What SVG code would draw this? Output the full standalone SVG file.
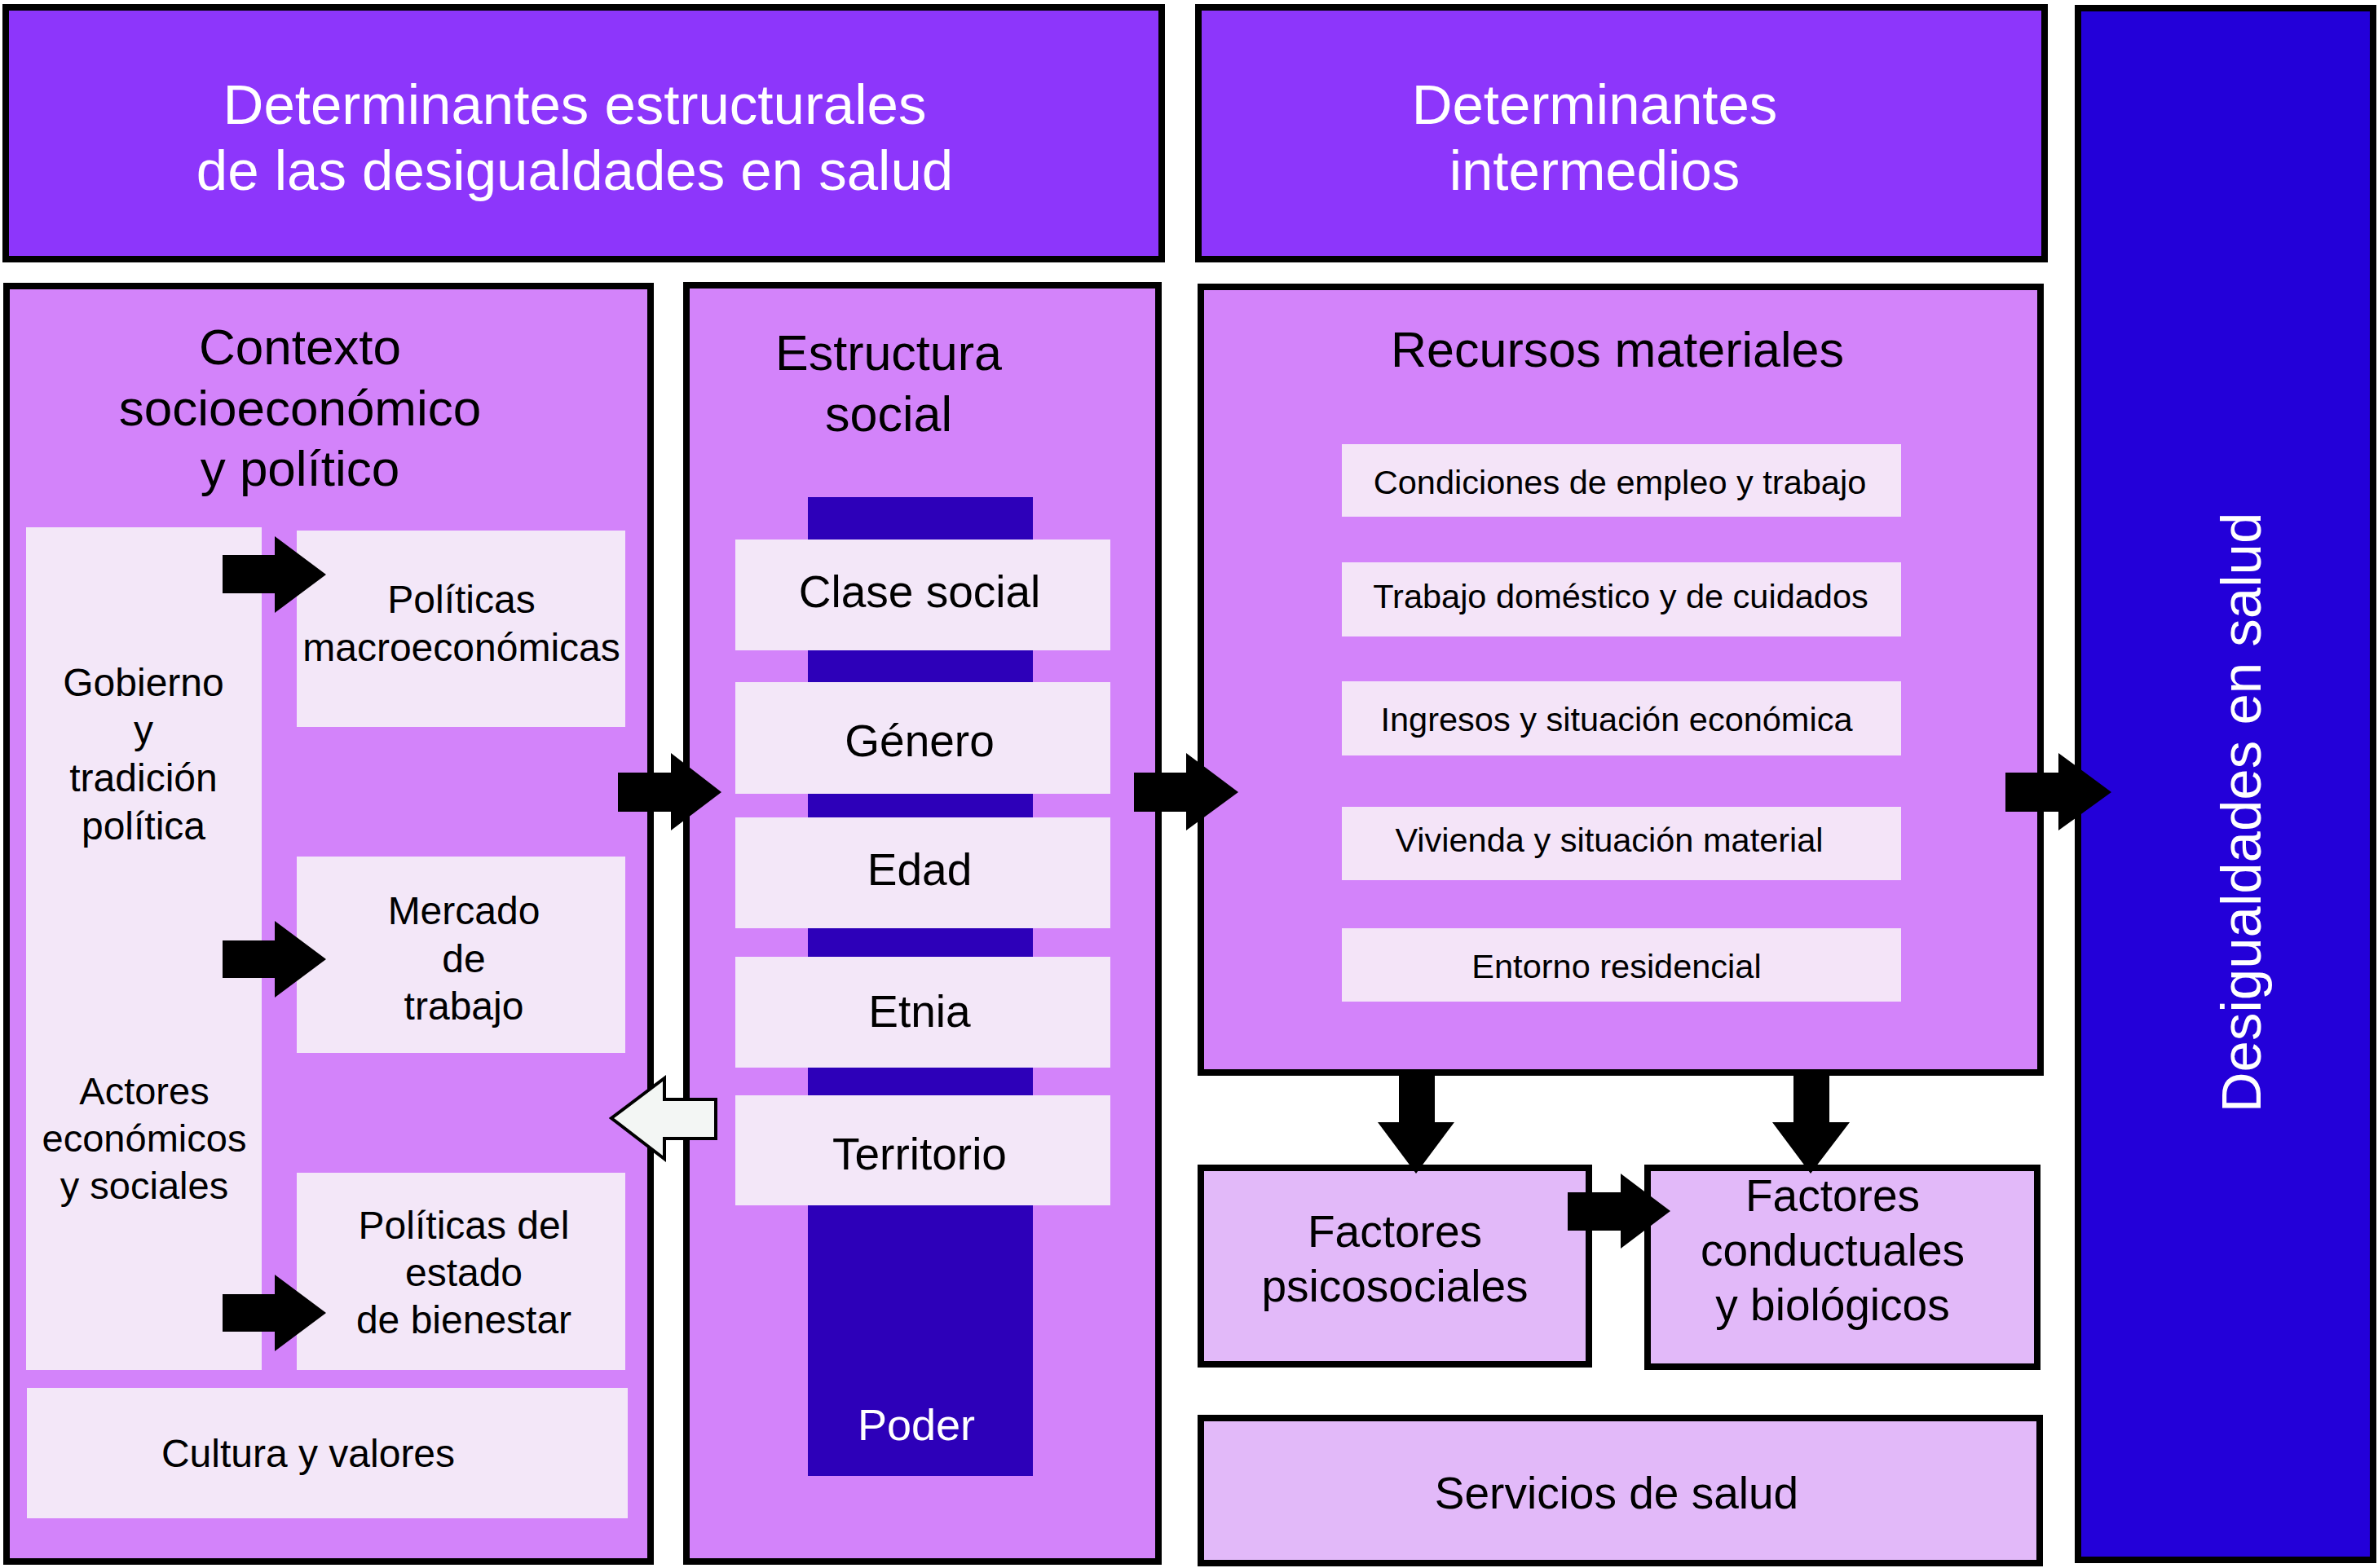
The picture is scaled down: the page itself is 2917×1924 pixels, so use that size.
<svg xmlns="http://www.w3.org/2000/svg" width="2917" height="1924" viewBox="0 0 2917 1924">
<style>
.bx{stroke:#000;stroke-width:8}
.top{fill:#8D36FB}
.mid{fill:#D383FA}
.lite{fill:#E2B9F9}
.dark{fill:#2300D9}
.inner{fill:#F3E7F8}
.item{fill:#F4E4F8}
.bar{fill:#2D00B9}
text{font-family:"Liberation Sans",Arial,Helvetica,sans-serif;text-anchor:middle;fill:#000}
.w{fill:#fff}
.arr{fill:#000}
.warr{fill:#F3F6F4;stroke:#000;stroke-width:4;stroke-linejoin:miter}
</style>
<rect width="2917" height="1924" fill="#fff"/>
<g id="det-estructurales">
<rect class="bx top" x="7" y="9" width="1418" height="309"/>
<text class="w" x="705" y="152" font-size="69">Determinantes estructurales</text>
<text class="w" x="705" y="233" font-size="69">de las desigualdades en salud</text>
</g>
<g id="det-intermedios">
<rect class="bx top" x="1470" y="9" width="1038" height="309"/>
<text class="w" x="1956" y="152" font-size="69">Determinantes</text>
<text class="w" x="1956" y="233" font-size="69">intermedios</text>
</g>
<g id="desigualdades">
<rect class="bx dark" x="2549" y="10" width="362" height="1904"/>
<text class="w" font-size="69" transform="translate(2773,997) rotate(-90)">Desigualdades en salud</text>
</g>
<g id="contexto">
<rect class="bx mid" x="8" y="351" width="790" height="1565"/>
<text x="368" y="447" font-size="62">Contexto</text>
<text x="368" y="522" font-size="62">socioeconómico</text>
<text x="368" y="596" font-size="62">y político</text>
</g>
<g id="gobierno-actores">
<rect class="inner" x="32" y="647" width="289" height="1034"/>
<text x="176" y="854" font-size="48">Gobierno</text>
<text x="176" y="912" font-size="48">y</text>
<text x="176" y="971" font-size="48">tradición</text>
<text x="176" y="1030" font-size="48">política</text>
<text x="177" y="1355" font-size="47">Actores</text>
<text x="177" y="1413" font-size="47">económicos</text>
<text x="177" y="1471" font-size="47">y sociales</text>
</g>
<g id="politicas-macro">
<rect class="inner" x="364" y="651" width="403" height="241"/>
<text x="566" y="752" font-size="48">Políticas</text>
<text x="566" y="811" font-size="48">macroeconómicas</text>
</g>
<g id="mercado">
<rect class="inner" x="364" y="1051" width="403" height="241"/>
<text x="569" y="1134" font-size="48">Mercado</text>
<text x="569" y="1193" font-size="48">de</text>
<text x="569" y="1251" font-size="48">trabajo</text>
</g>
<g id="bienestar">
<rect class="inner" x="364" y="1439" width="403" height="242"/>
<text x="569" y="1520" font-size="48">Políticas del</text>
<text x="569" y="1578" font-size="48">estado</text>
<text x="569" y="1636" font-size="48">de bienestar</text>
</g>
<g id="cultura">
<rect class="inner" x="33" y="1703" width="737" height="160"/>
<text x="378" y="1800" font-size="48">Cultura y valores</text>
</g>
<g id="estructura">
<rect class="bx mid" x="842" y="350" width="579" height="1566"/>
<text x="1090" y="454" font-size="61">Estructura</text>
<text x="1090" y="529" font-size="61">social</text>
</g>
<g id="poder">
<rect class="bar" x="991" y="610" width="276" height="1201"/>
<text class="w" x="1124" y="1767" font-size="54">Poder</text>
</g>
<g id="clase"><rect class="inner" x="902" y="662" width="460" height="136"/><text x="1128" y="745" font-size="55">Clase social</text></g>
<g id="genero"><rect class="inner" x="902" y="837" width="460" height="137"/><text x="1128" y="928" font-size="55">Género</text></g>
<g id="edad"><rect class="inner" x="902" y="1003" width="460" height="136"/><text x="1128" y="1086" font-size="55">Edad</text></g>
<g id="etnia"><rect class="inner" x="902" y="1174" width="460" height="136"/><text x="1128" y="1260" font-size="55">Etnia</text></g>
<g id="territorio"><rect class="inner" x="902" y="1344" width="460" height="135"/><text x="1128" y="1435" font-size="55">Territorio</text></g>
<g id="recursos">
<rect class="bx mid" x="1473" y="352" width="1030" height="964"/>
<text x="1984" y="450" font-size="61">Recursos materiales</text>
</g>
<g id="condiciones"><rect class="item" x="1646" y="545" width="686" height="89"/><text x="1987" y="606" font-size="41.5">Condiciones de empleo y trabajo</text></g>
<g id="domestico"><rect class="item" x="1646" y="690" width="686" height="91"/><text x="1988" y="746" font-size="41.5">Trabajo doméstico y de cuidados</text></g>
<g id="ingresos"><rect class="item" x="1646" y="836" width="686" height="91"/><text x="1983" y="897" font-size="41.5">Ingresos y situación económica</text></g>
<g id="vivienda"><rect class="item" x="1646" y="990" width="686" height="90"/><text x="1974" y="1045" font-size="41.5">Vivienda y situación material</text></g>
<g id="entorno"><rect class="item" x="1646" y="1139" width="686" height="90"/><text x="1983" y="1200" font-size="41.5">Entorno residencial</text></g>
<g id="psicosociales">
<rect class="bx lite" x="1473" y="1433" width="476" height="241"/>
<text x="1711" y="1530" font-size="55">Factores</text>
<text x="1711" y="1597" font-size="55">psicosociales</text>
</g>
<g id="conductuales">
<rect class="bx lite" x="2021" y="1433" width="478" height="244"/>
<text x="2248" y="1486" font-size="55">Factores</text>
<text x="2248" y="1553" font-size="55">conductuales</text>
<text x="2248" y="1620" font-size="55">y biológicos</text>
</g>
<g id="servicios">
<rect class="bx lite" x="1473" y="1740" width="1029" height="178"/>
<text x="1983" y="1851" font-size="55">Servicios de salud</text>
</g>
<g id="connectors">
<polygon class="arr" points="273,681 337,681 337,658 400,705 337,752 337,728 273,728"/>
<polygon class="arr" points="273,1154 337,1154 337,1130 400,1177 337,1224 337,1200 273,1200"/>
<polygon class="arr" points="273,1588 337,1588 337,1564 400,1611 337,1658 337,1634 273,1634"/>
<polygon class="arr" points="758,948 823,948 823,924 885,972 823,1019 823,996 758,996"/>
<polygon class="arr" points="1391,948 1455,948 1455,924 1519,972 1455,1019 1455,996 1391,996"/>
<polygon class="arr" points="2460,948 2525,948 2525,924 2590,972 2525,1019 2525,996 2460,996"/>
<polygon class="arr" points="1716,1316 1760,1316 1760,1377 1784,1377 1737,1440 1690,1377 1716,1377"/>
<polygon class="arr" points="2200,1316 2244,1316 2244,1377 2269,1377 2221,1440 2174,1377 2200,1377"/>
<polygon class="arr" points="1923,1463 1988,1463 1988,1440 2049,1486 1988,1532 1988,1510 1923,1510"/>
<polygon class="warr" points="878,1349 815,1349 815,1323 750,1372 815,1422 815,1397 878,1397"/>
</g>
</svg>
